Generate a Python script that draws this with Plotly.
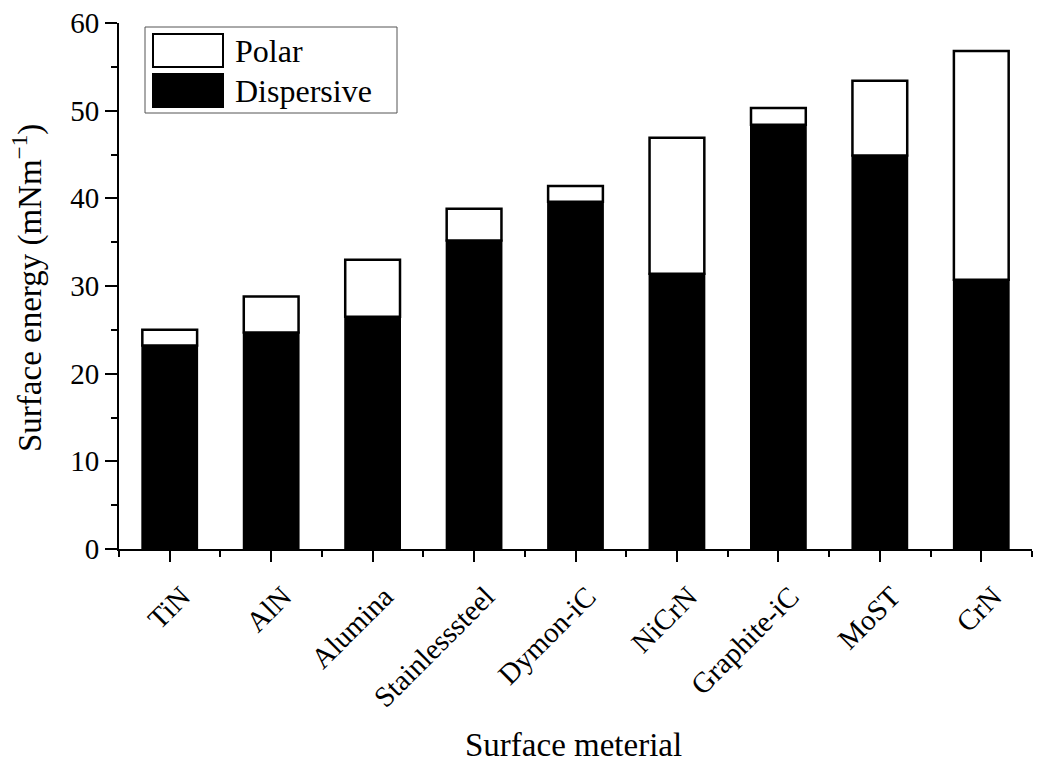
import plotly.graph_objects as go

categories = ["TiN", "AlN", "Alumina", "Stainlesssteel", "Dymon-iC",
              "NiCrN", "Graphite-iC", "MoST", "CrN"]
dispersive = [23.2, 24.7, 26.5, 35.2, 39.6, 31.4, 48.4, 44.9, 30.7]
polar = [1.8, 4.1, 6.5, 3.6, 1.8, 15.5, 1.9, 8.5, 26.1]
y_ticks = [0, 10, 20, 30, 40, 50, 60]

FONT = "Liberation Serif"
W, H = 1044, 769
L, R, T, B = 119, 12, 23, 220
pw, ph = W - L - R, H - T - B

def px(x):
    return (x - L) / pw

def py(y):
    return (H - B - y) / ph

xs = list(range(len(categories)))

fig = go.Figure()
fig.add_trace(go.Bar(x=xs, y=dispersive, name="Dispersive", width=0.54,
                     marker=dict(color="black", line=dict(color="black", width=2)),
                     showlegend=False))
fig.add_trace(go.Bar(x=xs, y=polar, base=dispersive, name="Polar", width=0.54,
                     marker=dict(color="white", line=dict(color="black", width=2.5)),
                     showlegend=False))

fig.update_layout(
    width=W, height=H, margin=dict(l=L, r=R, t=T, b=B, autoexpand=False),
    paper_bgcolor="white", plot_bgcolor="white",
    barmode="overlay",
    font=dict(family=FONT, size=29, color="black"),
    xaxis=dict(range=[-0.5, 8.5], tickvals=xs, ticktext=categories,
               tickangle=-45, ticks="outside", ticklen=11, tickwidth=2,
               tickcolor="black", showline=True, linecolor="black", linewidth=2,
               showgrid=False, zeroline=False, automargin=False,
               ticklabelshift=12, ticklabelstandoff=6,
               minor=dict(tickvals=[i + 0.5 for i in range(-1, len(categories))],
                          ticks="outside", ticklen=6, tickwidth=2, tickcolor="black"),
               tickfont=dict(family=FONT, size=29)),
    yaxis=dict(range=[0, 60], tickvals=y_ticks, ticks="outside", ticklen=12,
               tickwidth=2, tickcolor="black", showline=True, linecolor="black",
               linewidth=2, showgrid=False, zeroline=False, automargin=False,
               minor=dict(dtick=5, ticks="outside", ticklen=6, tickwidth=2,
                          tickcolor="black"),
               tickfont=dict(family=FONT, size=29)),
)

# axis titles
fig.add_annotation(text="Surface energy (mNm<sup>−1</sup>)", xref="paper", yref="paper",
                   x=px(28), y=py(288), textangle=-90, showarrow=False,
                   font=dict(family=FONT, size=33), xanchor="center", yanchor="middle")
fig.add_annotation(text="Surface meterial", xref="paper", yref="paper",
                   x=px(573), y=py(745), showarrow=False,
                   font=dict(family=FONT, size=33), xanchor="center", yanchor="middle")

# legend (drawn manually)
fig.add_shape(type="rect", xref="paper", yref="paper", x0=px(145), x1=px(397),
              y0=py(113), y1=py(27), line=dict(color="#555", width=1), fillcolor="white")
fig.add_shape(type="rect", xref="paper", yref="paper", x0=px(153), x1=px(223),
              y0=py(67), y1=py(34), line=dict(color="black", width=2), fillcolor="white")
fig.add_shape(type="rect", xref="paper", yref="paper", x0=px(152), x1=px(224),
              y0=py(108), y1=py(73), line=dict(color="black", width=0), fillcolor="black")
fig.add_annotation(text="Polar", xref="paper", yref="paper", x=px(233), y=py(51),
                   showarrow=False, xanchor="left", yanchor="middle",
                   font=dict(family=FONT, size=32))
fig.add_annotation(text="Dispersive", xref="paper", yref="paper", x=px(233), y=py(91),
                   showarrow=False, xanchor="left", yanchor="middle",
                   font=dict(family=FONT, size=32))

fig.write_html("out.html")
